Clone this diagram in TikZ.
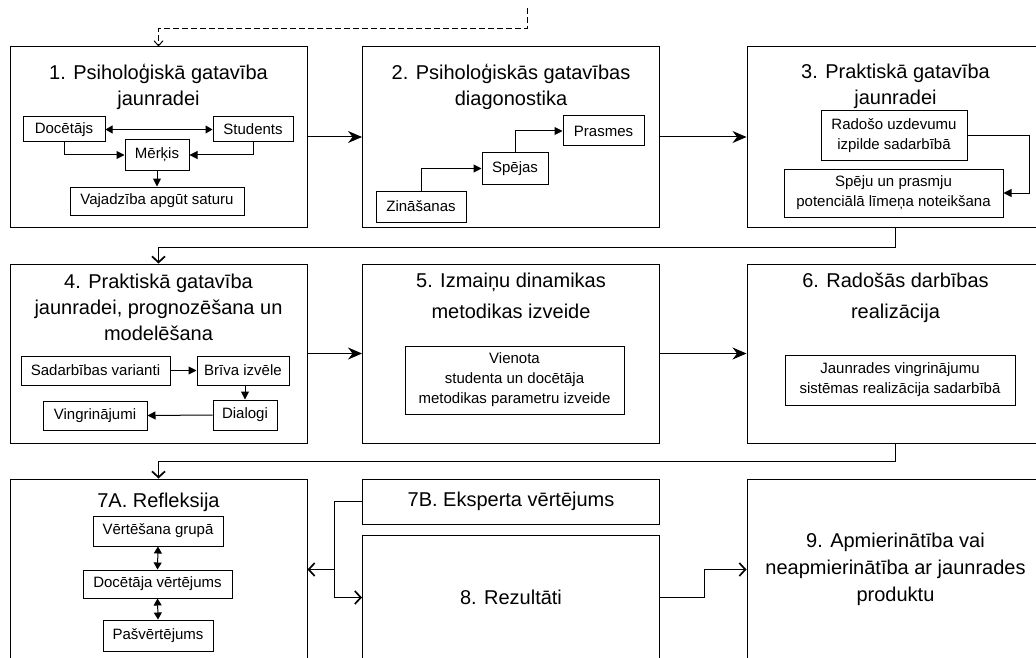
\documentclass[tikz,border=0pt]{standalone}
\usepackage{fontspec}
\setmainfont{Liberation Sans}
\usetikzlibrary{calc,positioning,arrows.meta}

\begin{document}
\begin{tikzpicture}[x=1pt,y=-1pt,line width=1pt,
		bigbox/.style={draw,inner sep=0pt,minimum width=297pt},
		boxtitle/.style={align=center,inner sep=0pt,font=\fontsize{20}{26}\selectfont},
		inbox/.style={draw,inner sep=0pt,align=center,font=\fontsize{15}{20}\selectfont},
		arr/.style={-{Stealth[length=14pt,width=12pt]}},
		barb/.style={-{Straight Barb[length=6pt,width=13pt,line width=1.7pt]}},
		inarr/.style={-{Triangle[length=8pt,width=8pt]}},
		dblarr/.style={{Triangle[length=7pt,width=8pt]}-{Triangle[length=7pt,width=8pt]}}]
			\useasboundingbox (0,0) rectangle (1036,658);
			\clip (0,0) rectangle (1036,658);
			\node[bigbox,minimum height=180pt] (b1) at (158.5,137) {};
			\node[bigbox,minimum height=180pt] (b2) at (511,137) {};
			\node[bigbox,minimum height=180pt] (b3) at (895.5,137) {};
			\node[bigbox,minimum height=179pt] (b4) at (158.5,353.5) {};
			\node[bigbox,minimum height=179pt] (b5) at (511,353.5) {};
			\node[bigbox,minimum height=179pt] (b6) at (895.5,353.5) {};
			\node[bigbox,minimum height=181pt] (b7a) at (158.5,569.5) {};
			\node[bigbox,boxtitle,minimum height=45pt] (b7b) at (511,501.5) {7B. Eksperta vērtējums};
			\node[bigbox,boxtitle,minimum height=125pt] (b8) at (511,597.5) {8. Rezultāti};
			\node[bigbox,boxtitle,minimum height=181pt,font=\fontsize{20}{27}\selectfont] (b9) at (895.5,569.5) {9. Apmierinātība vai\\neapmierinātība ar jaunrades\\produktu};

			\node[boxtitle,anchor=north] (t1) at ($(b1.north)+(0,17)$) {1. Psiholoģiskā gatavība\\jaunradei};
			\node[boxtitle,anchor=north] (t2) at ($(b2.north)+(0,17)$) {2. Psiholoģiskās gatavības\\diagonostika};
			\node[boxtitle,anchor=north] (t3) at ($(b3.north)+(0,17)$) {3. Praktiskā gatavība\\jaunradei};
			\node[boxtitle,anchor=north] (t4) at ($(b4.north)+(0,10)$) {4. Praktiskā gatavība\\jaunradei, prognozēšana un\\modelēšana};
			\node[boxtitle,anchor=north] (t5) at ($(b5.north)+(0,9)$) {5. Izmaiņu dinamikas\\[5pt]metodikas izveide};
			\node[boxtitle,anchor=north] (t6) at ($(b6.north)+(0,9)$) {6. Radošās darbības\\[5pt]realizācija};
			\node[boxtitle,anchor=north] (t7a) at ($(b7a.north)+(0,14)$) {7A. Refleksija};

			\node[inbox,minimum width=82pt,minimum height=25pt] (doc) at (64,129.5) {Docētājs};
			\node[inbox,minimum width=80pt,minimum height=25pt] (stud) at (253,129.5) {Students};
			\node[inbox,minimum width=64pt,minimum height=30pt] (merk) at (157,155) {Mērķis};
			\node[inbox,minimum width=174pt,minimum height=28pt] (vaj) at (157,201) {Vajadzība apgūt saturu};

			\node[inbox,minimum width=81pt,minimum height=30pt] (prasm) at (603.5,131) {Prasmes};
			\node[inbox,minimum width=66pt,minimum height=31pt] (spej) at (515,168.5) {Spējas};
			\node[inbox,minimum width=90pt,minimum height=31pt] (zin) at (421,206.5) {Zināšanas};

			\node[inbox,minimum width=146pt,minimum height=50pt] (rad) at (894,136) {Radošo uzdevumu\\izpilde sadarbībā};
			\node[inbox,minimum width=219pt,minimum height=48pt] (pot) at (893.5,193) {Spēju un prasmju\\potenciālā līmeņa noteikšana};

			\node[inbox,minimum width=149pt,minimum height=29pt] (sad) at (95.5,370.5) {Sadarbības varianti};
			\node[inbox,minimum width=92pt,minimum height=29pt] (briv) at (243,370.5) {Brīva izvēle};
			\node[inbox,minimum width=64pt,minimum height=30pt] (dial) at (245,415) {Dialogi};
			\node[inbox,minimum width=104pt,minimum height=29pt] (ving) at (95,415.5) {Vingrinājumi};

			\node[inbox,minimum width=219pt,minimum height=68pt] (met) at (514.5,380) {Vienota\\studenta un docētāja\\metodikas parametru izveide};
			\node[inbox,minimum width=230pt,minimum height=50pt] (sist) at (900,380) {Jaunrades vingrinājumu\\sistēmas realizācija sadarbībā};

			\node[inbox,minimum width=130pt,minimum height=30pt] (grup) at (158,531) {Vērtēšana grupā};
			\node[inbox,minimum width=149pt,minimum height=28pt] (docv) at (157.5,584) {Docētāja vērtējums};
			\node[inbox,minimum width=110pt,minimum height=31pt] (pasv) at (158,635.5) {Pašvērtējums};

			\coordinate (up) at (527,8);
			\draw[dash pattern=on 6pt off 3pt,-{Straight Barb[length=5pt,width=9pt]}] (up) -- ++(0,21) -| (b1.north);

			\draw[arr] (b1.east) -- (b2.west);
			\draw[arr] (b2.east) -- (b3.west);
			\draw[barb] (b3.south) -- ++(0,20) -| (b4.north);
			\draw[arr] (b4.east) -- (b5.west);
			\draw[arr] (b5.east) -- (b6.west);
			\draw[barb] (b6.south) -- ++(0,18) -| (b7a.north);
			\coordinate (jn) at ($(b7b.west)+(-28,0)$);
			\draw (b7b.west) -- (jn);
			\draw[barb] (jn) |- (b8.west);
			\draw[barb] (jn |- b7a.east) -- (b7a.east);
			\draw[barb] (b8.east) -- ++(44,0) |- (b9.west);

			\draw[dblarr] (doc.east) -- (stud.west);
			\draw[inarr] (doc.south) |- (merk.west);
			\draw[inarr] (stud.south) |- (merk.east);
			\draw[inarr] (merk.south) -- (vaj.north);
			\draw[inarr] (zin.north) |- (spej.west);
			\draw[inarr] (spej.north) |- (prasm.west);
			\draw[inarr] (rad.east) -- ++(62,0) |- (pot.east);
			\draw[inarr] (sad.east) -- (briv.west);
			\draw[inarr] (briv.south -| dial.north) -- (dial.north);
			\draw[inarr] (dial.west) -- (ving.east);
			\draw[dblarr] (grup.south) -- (docv.north);
			\draw[dblarr] (docv.south) -- (pasv.north);
		\end{tikzpicture}
\end{document}
